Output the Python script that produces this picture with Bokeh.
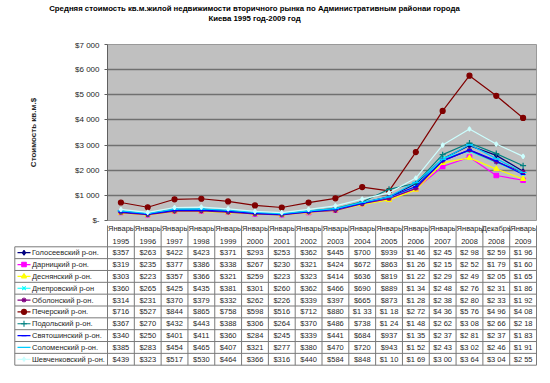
from bokeh.plotting import figure
from bokeh.layouts import column, row
from bokeh.models import Range1d, FixedTicker
from bokeh.core.properties import value
from bokeh.embed import file_html
from bokeh.resources import INLINE

# ---------------- data ----------------
months = ["Январь"] * 14 + ["Декабрь", "Январь"]
years = ["1995", "1996", "1997", "1998", "1999", "2000", "2001", "2002",
         "2003", "2004", "2005", "2006", "2007", "2008", "2008", "2009"]

districts = ["Голосеевский р-он.", "Дарницкий р-он.", "Деснянский р-он.",
             "Днепровский р-он", "Оболонский р-он.", "Печерский р-он.",
             "Подольский р-он.", "Святошинский р-он.", "Соломенский р-он.",
             "Шевченковский р-он."]

golos = [357, 263, 422, 423, 371, 293, 253, 362, 445, 700, 939, 1460, 2450, 2980, 2590, 1960]
darn = [319, 235, 377, 386, 338, 267, 230, 321, 424, 672, 863, 1260, 2150, 2520, 1790, 1600]
desn = [303, 223, 357, 366, 321, 259, 223, 323, 414, 636, 819, 1220, 2290, 2490, 2050, 1650]
dnepr = [360, 265, 425, 435, 381, 301, 260, 362, 466, 690, 889, 1340, 2480, 2760, 2310, 1860]
obol = [314, 231, 370, 379, 332, 262, 226, 339, 397, 665, 873, 1280, 2380, 2800, 2330, 1920]
pech = [716, 527, 844, 865, 758, 598, 516, 712, 880, 1330, 1180, 2720, 4360, 5760, 4960, 4080]
podol = [367, 270, 432, 443, 388, 306, 264, 370, 486, 738, 1240, 1480, 2620, 3080, 2660, 2180]
svyat = [340, 250, 401, 411, 360, 284, 245, 339, 441, 684, 937, 1350, 2370, 2810, 2370, 1830]
solom = [385, 283, 454, 465, 407, 321, 277, 380, 470, 720, 943, 1520, 2430, 3020, 2460, 1910]
shev = [439, 323, 517, 530, 464, 366, 316, 440, 584, 848, 1100, 1690, 3000, 3640, 3040, 2550]

series = [golos, darn, desn, dnepr, obol, pech, podol, svyat, solom, shev]
colors = ["#000080", "#FF00FF", "#FFFF00", "#00FFFF", "#800080",
          "#800000", "#008080", "#0000FF", "#00CCFF", "#CCFFFF"]
markers = ["diamond", "square", "triangle", "x", "asterisk",
           "circle", "cross", "dash", "dash", "diamond"]
msizes = [5, 4.5, 5, 5, 5, 5, 6, 5, 7, 4.5]

y_ticks = [0, 1000, 2000, 3000, 4000, 5000, 6000, 7000]
y_labels = {0: "$-", 1000: "$1 000", 2000: "$2 000", 3000: "$3 000",
            4000: "$4 000", 5000: "$5 000", 6000: "$6 000", 7000: "$7 000"}

title1 = "Средняя стоимость кв.м.жилой недвижимости вторичного рынка по Административным районаи города"
title2 = "Киева 1995 год-2009 год"
ylabel = "Стоимость кв.м.$"

FONT = "Liberation Sans"
TXT = "#262626"

n = len(years)
xs = [i + 0.5 for i in range(n)]

# ---------------- layout constants (page pixels) ----------------
PAGE_L = 8
FR_L, FR_R, FR_T, FR_B = 115, 544, 52, 228
W = 538
CW = (FR_R - FR_L) / n


def px_x(px):
    return (px - FR_L) / CW


# ---------------- title figure ----------------
p0 = figure(width=W, height=40, output_backend="svg", toolbar_location=None,
            x_range=Range1d(8, 8 + W), y_range=Range1d(48, 8),
            min_border=0, x_axis_location=None, y_axis_location=None)
p0.outline_line_color = None
p0.grid.visible = False
p0.text(x=[262, 262], y=[15.5, 25.5], text=[title1, title2],
        text_font=value(FONT), text_font_size="7.8px", text_font_style="bold",
        text_align="center", text_baseline="middle", text_color="#000000")

# ---------------- chart figure ----------------
p1 = figure(width=W, height=185, output_backend="svg", toolbar_location=None,
            x_range=Range1d(0, n), y_range=Range1d(0, 7000),
            min_border_left=FR_L - PAGE_L, min_border_right=PAGE_L + W - FR_R,
            min_border_top=4, min_border_bottom=5, x_axis_location=None)
p1.background_fill_color = "#C0C0C0"
p1.outline_line_color = "#999999"
p1.xgrid.visible = False
p1.ygrid.grid_line_color = "#707070"
p1.ygrid.grid_line_width = 1.5
p1.yaxis.ticker = FixedTicker(ticks=y_ticks)
p1.yaxis.major_label_overrides = y_labels
p1.yaxis.minor_tick_line_color = None
p1.yaxis.major_tick_out = 3
p1.yaxis.major_tick_in = 0
p1.yaxis.major_label_standoff = 5
p1.yaxis.axis_line_color = "#606060"
p1.yaxis.major_tick_line_color = "#606060"
p1.yaxis.major_label_text_font = FONT
p1.yaxis.major_label_text_font_size = "8px"
p1.yaxis.major_label_text_color = TXT
p1.yaxis.axis_label = ylabel
p1.yaxis.axis_label_text_font = FONT
p1.yaxis.axis_label_text_font_size = "8px"
p1.yaxis.axis_label_text_font_style = "bold"
p1.yaxis.axis_label_text_color = TXT
p1.yaxis.axis_label_standoff = 34

for vals, c, m, s in zip(series, colors, markers, msizes):
    p1.line(xs, vals, line_color=c, line_width=1.2)
    p1.scatter(xs, vals, marker=m, size=s, line_color=c, fill_color=c, line_width=1.2)

# ---------------- table figure ----------------
T_TOP = 233
T_H = 142
p2 = figure(width=W, height=T_H, output_backend="svg", toolbar_location=None,
            x_range=Range1d(px_x(PAGE_L), px_x(PAGE_L + W)),
            y_range=Range1d(T_TOP + T_H - FR_B, T_TOP - FR_B),
            min_border=0, x_axis_location=None, y_axis_location=None)
p2.outline_line_color = None
p2.grid.visible = False

ROW0 = 26.3
RH = 11.84
nrows = len(districts)
tbl_bottom = ROW0 + RH * nrows
leg_left = px_x(22.3)
LINEC = "#7a7a7a"

# horizontal lines
p2.segment(x0=[leg_left] * (nrows + 1), x1=[n] * (nrows + 1),
           y0=[ROW0 + RH * r for r in range(nrows + 1)],
           y1=[ROW0 + RH * r for r in range(nrows + 1)],
           line_color=LINEC, line_width=1)
# vertical lines
p2.segment(x0=list(range(n + 1)), x1=list(range(n + 1)),
           y0=[0] * (n + 1), y1=[tbl_bottom] * (n + 1),
           line_color=LINEC, line_width=1)
p2.segment(x0=[leg_left], x1=[leg_left], y0=[ROW0], y1=[tbl_bottom],
           line_color=LINEC, line_width=1)

# header
p2.text(x=xs, y=[8] * n, text=months, text_font=value(FONT),
        text_font_size="7.5px", text_align="center", text_baseline="middle",
        text_color=TXT)
p2.text(x=xs, y=[21] * n, text=years, text_font=value(FONT),
        text_font_size="7.5px", text_align="center", text_baseline="middle",
        text_color=TXT)


def fmt(v):
    s = "$" + f"{v:,}".replace(",", " ")
    return s[:5]


cx, cy, ct = [], [], []
for r, vals in enumerate(series):
    for i, v in enumerate(vals):
        cx.append(xs[i])
        cy.append(ROW0 + RH * (r + 0.5))
        ct.append(fmt(v))
p2.text(x=cx, y=cy, text=ct, text_font=value(FONT), text_font_size="7.5px",
        text_align="center", text_baseline="middle", text_color=TXT)

# legend samples
ly = [ROW0 + RH * (r + 0.5) for r in range(nrows)]
p2.segment(x0=[px_x(25)] * nrows, x1=[px_x(38)] * nrows, y0=ly, y1=ly,
           line_color=colors, line_width=1.2)
for r in range(nrows):
    p2.scatter([px_x(31.5)], [ly[r]], marker=markers[r], size=msizes[r],
               line_color=colors[r], fill_color=colors[r], line_width=1.1)
p2.text(x=[px_x(39.5)] * nrows, y=ly, text=districts, text_font=value(FONT),
        text_font_size="7.5px", text_align="left", text_baseline="middle",
        text_color=TXT)

layout = column(row(p0), row(p1), row(p2), spacing=0)
open("out.html", "w").write(file_html(layout, INLINE))
